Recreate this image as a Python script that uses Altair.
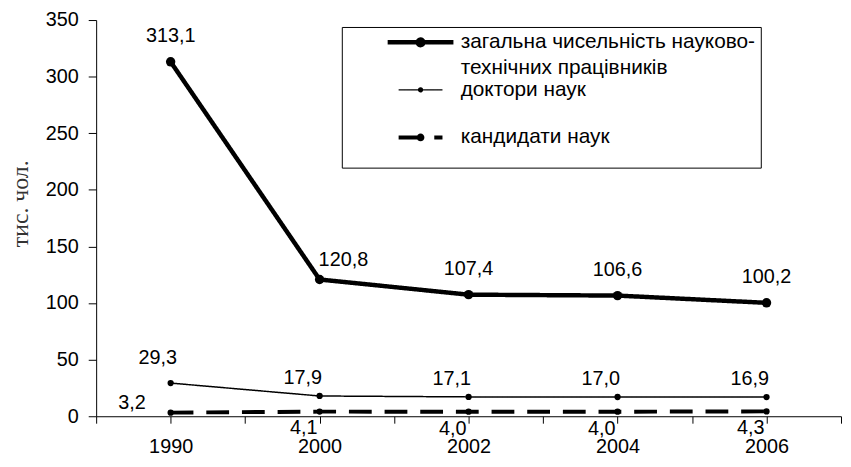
import json
import altair as alt
import pandas as pd

years = ["1990", "2000", "2002", "2004", "2006"]
total = [313.1, 120.8, 107.4, 106.6, 100.2]
doctors = [29.3, 17.9, 17.1, 17.0, 16.9]
candidates = [3.2, 4.1, 4.0, 4.0, 4.3]
series_names = [
    "загальна чисельність науково-технічних працівників",
    "доктори наук",
    "кандидати наук",
]
y_ticks = [0, 50, 100, 150, 200, 250, 300, 350]

rows = []
for name, vals in zip(series_names, [total, doctors, candidates]):
    for i, (yr, v) in enumerate(zip(years, vals)):
        rows.append(dict(series=name, idx=i, year=yr, value=v,
                         label=f"{v:.1f}".replace(".", ",")))
df = pd.DataFrame(rows)

FONT = "Liberation Sans"
n = len(years)
x_tick_values = [k / 2 - 0.5 for k in range(2 * n + 1)]
label_expr = f"datum.value % 1 == 0 ? {json.dumps(years)}[datum.value] : ''"

x_enc = alt.X(
    "idx:Q",
    scale=alt.Scale(domain=[-0.5, n - 0.5], nice=False, zero=False),
    axis=alt.Axis(values=x_tick_values, labelExpr=label_expr, title=None, grid=False,
                  tickSize=7, labelPadding=14, labelOverlap=False, labelFlush=False,
                  labelFont=FONT, labelFontSize=20, labelColor="black",
                  domainColor="black", tickColor="black"),
)
y_enc = alt.Y(
    "value:Q",
    scale=alt.Scale(domain=[0, 350], nice=False),
    axis=alt.Axis(values=y_ticks, title="тис. чол.", titleFont="Liberation Serif",
                  titleFontSize=24, titleFontWeight="normal", titleColor="#333333",
                  titleAngle=270, titleX=-76, titleY=185, titleBaseline="middle",
                  titleAlign="center", grid=False,
                  tickSize=8, labelPadding=10, labelFont=FONT, labelFontSize=20,
                  labelColor="black", domainColor="black", tickColor="black"),
)

first, second = series_names[0], series_names[1]
pad = "\u00a0" * 8
legend_label = (
    f"datum.label == '{first}' ? ['загальна чисельність науково-{pad}', 'технічних працівників'] : "
    f"datum.label == '{second}' ? ['{second}', ''] : datum.label"
)
sym_path = "M-7,0H7M0.6,0A0.6,0.6,0,1,1,-0.6,0A0.6,0.6,0,1,1,0.6,0Z"
leg = alt.Legend(
    title="\u2003", titleOrient="bottom", titleFontSize=12, titlePadding=4,
    orient="none", legendX=248, legendY=7, strokeColor="black",
    padding=5, symbolType=sym_path, symbolStrokeColor="black",
    symbolFillColor="black", labelFont=FONT, labelFontSize=21, labelLimit=700,
    labelExpr=legend_label, symbolOffset=64, labelOffset=30, rowPadding=0,
)

base = alt.Chart(df)

lines = base.mark_line(color="black").encode(
    x=x_enc, y=y_enc,
    strokeDash=alt.StrokeDash("series:N", scale=alt.Scale(type="ordinal", domain=series_names,
                              range=[[1, 0], [1, 0], [23, 13]]), legend=leg),
    strokeWidth=alt.StrokeWidth("series:N", scale=alt.Scale(type="ordinal", domain=series_names,
                                range=[4.5, 1.5, 4]), legend=leg),
    detail="series:N",
)

points = base.mark_point(filled=True, color="black", opacity=1).encode(
    x=x_enc, y=y_enc,
    size=alt.Size("series:N", scale=alt.Scale(type="ordinal", domain=series_names,
                  range=[90, 40, 40]), legend=None),
)


def text_layer(series, idxs, dx, dy):
    cond = f"datum.series == {json.dumps(series)} && indexof({json.dumps(idxs)}, datum.idx) >= 0"
    return base.transform_filter(cond).mark_text(
        font=FONT, fontSize=20, color="black", dx=dx, dy=dy, baseline="middle", align="center"
    ).encode(x=x_enc, y=y_enc, text="label:N")


texts = [
    text_layer(series_names[0], [0, 2, 3, 4], 0, -26),
    text_layer(series_names[0], [1], 24, -20),
    text_layer(series_names[1], [0], -13, -25),
    text_layer(series_names[1], [1, 2, 3, 4], -17, -18),
    text_layer(series_names[2], [0], -39, -10),
    text_layer(series_names[2], [1, 2, 3, 4], -16, 17),
]

chart = alt.layer(lines, points, *texts).properties(
    width=752, height=400,
    autosize=alt.AutoSizeParams(type="none"),
    padding={"left": 89, "top": 10, "right": 2, "bottom": 41},
).configure(
    background="white", style={"guide-label": {"lineHeight": 26}}
).configure_view(stroke=None)

chart.save("out.html", embed_options={"renderer": "svg", "actions": False})
